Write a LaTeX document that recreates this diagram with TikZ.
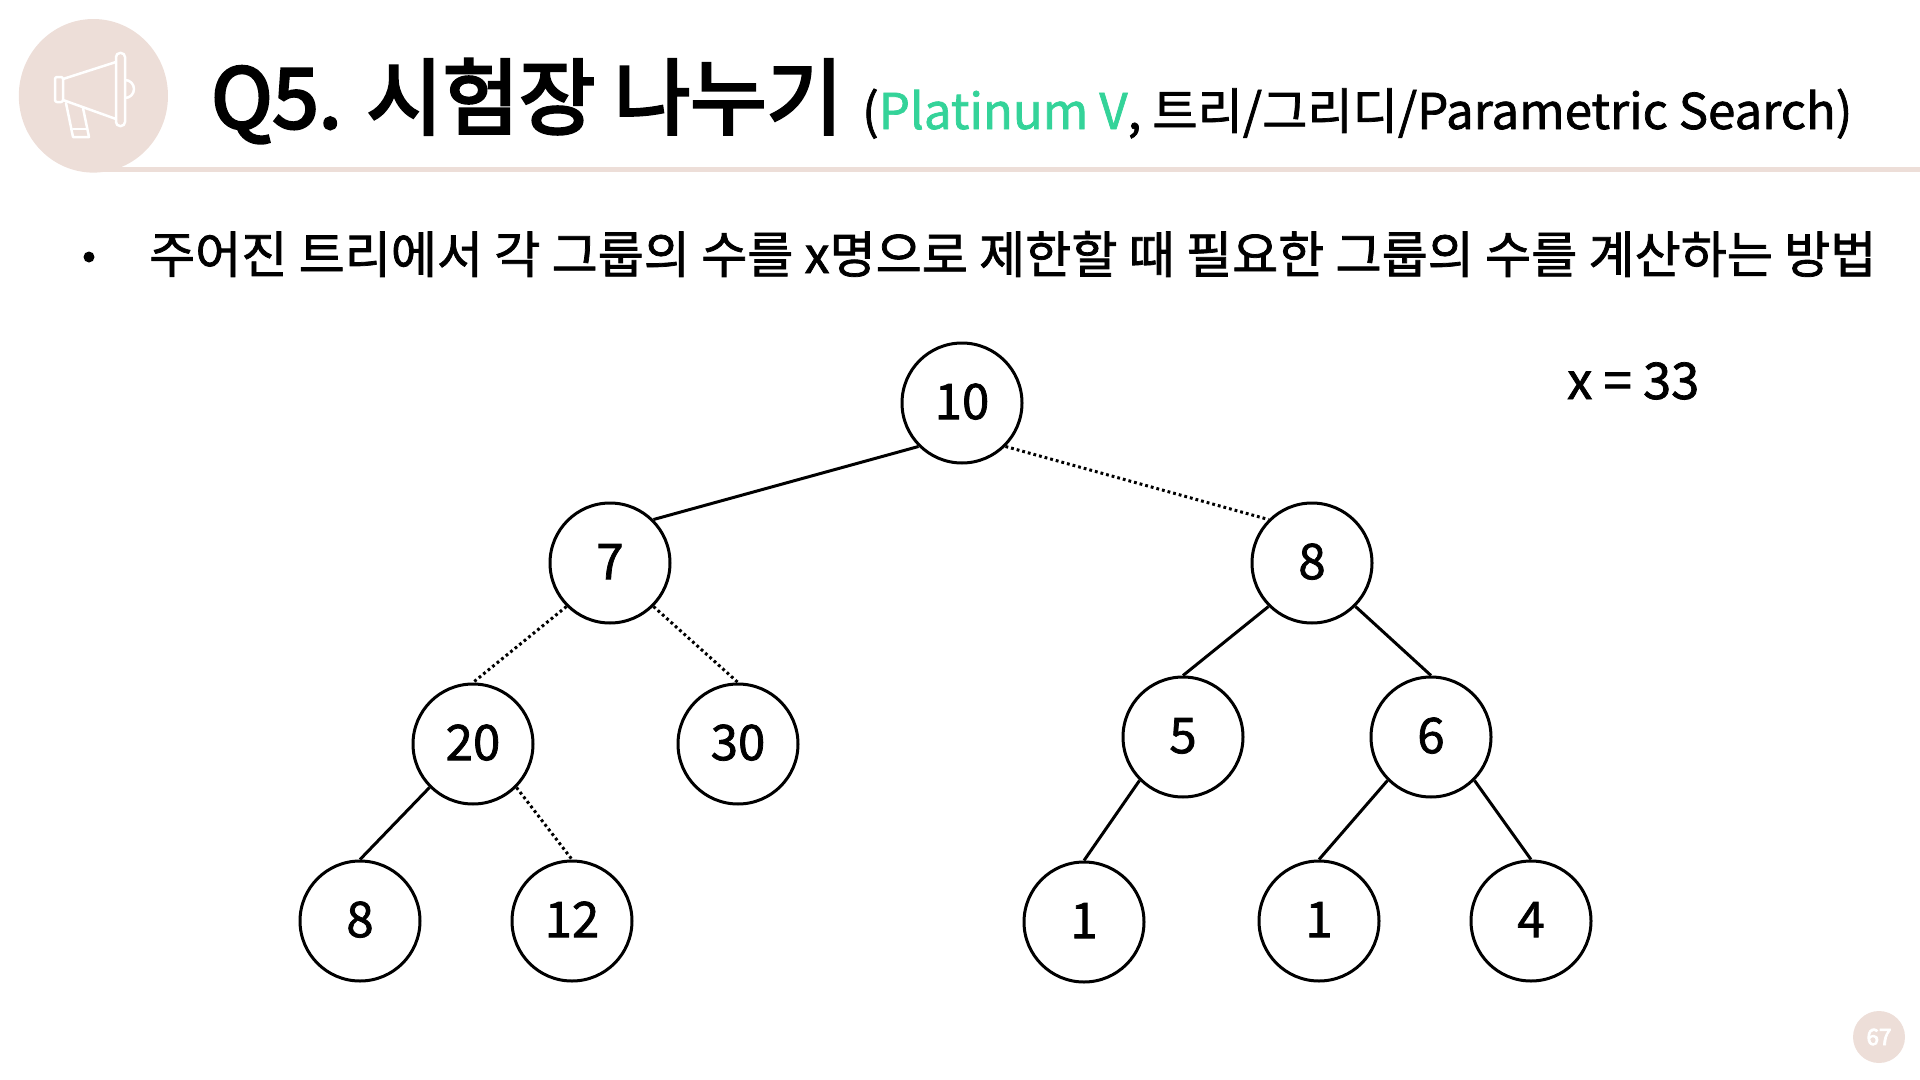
\documentclass[tikz,border=0pt]{standalone}
\usepackage{fontspec}
\setmainfont{Noto Sans CJK KR}[FakeBold=1.5]
\newfontfamily\headfont{Noto Sans CJK KR}[FakeBold=3.5]
\definecolor{beige}{HTML}{EDDED8}
\definecolor{mint}{HTML}{34D399}
\tikzset{
    tree/.style={circle, draw, line width=.15cm, minimum size=6cm, inner sep=0pt, text height=51pt, text depth=5pt, font=\fontsize{70}{80}\selectfont},
    edge/.style={line width=.15cm},
    dots/.style={line width=.15cm, dash pattern=on .14cm off .15cm},
    horn/.style={draw=white, line width=.125cm, line join=round, line cap=round}
}
\begin{document}
\begin{tikzpicture}[x=.05cm, y=-.05cm]
    \useasboundingbox(0, 0)rectangle(1920, 1080);
    \fill[beige](100, 166.5)rectangle(1920, 171.5);
    \fill[beige](93.4, 95.8)ellipse[x radius=3.73cm, y radius=3.84cm];
    % megaphone
    \draw[horn, rounded corners=.1cm](55, 77)rectangle(63, 102);
    \draw[horn, rounded corners=.2cm](116, 53)rectangle(125, 126);
    \draw[horn](63, 79)--(116, 62);
    \draw[horn](63, 100)--(116, 119);
    \draw[horn](125, 80)arc[start angle=90, end angle=-90, radius=.45cm];
    \draw[horn](66, 103)--(73, 137)--(89, 137)--(83, 108);
    \draw[horn](73, 129)--(87, 129);
    % heading
    \node[anchor=base west, inner sep=0pt, font=\fontsize{118}{120}\headfont](title)at(211, 128){Q5. 시험장 나누기};
    \node[anchor=base west, inner sep=0pt, font=\fontsize{70}{80}\selectfont](sub)at(862, 129){(\textcolor{mint}{Platinum V}, 트리/그리디/Parametric Search)};
    \node[circle, fill=black, minimum size=.55cm, inner sep=0pt](bullet)at(89, 257){};
    \node[anchor=base west, inner sep=0pt, font=\fontsize{71.3}{80}\selectfont](line)at(149, 273){주어진 트리에서 각 그룹의 수를 x명으로 제한할 때 필요한 그룹의 수를 계산하는 방법};
    \node[anchor=base west, inner sep=0pt, font=\fontsize{72}{80}\selectfont](limit)at(1567, 399){x = 33};
    % tree
    \node[tree](r)at(962, 403){10};
    \node[tree](a)at(610, 563){7};
    \node[tree](b)at(1312, 563){8};
    \node[tree](aa)at(473, 744){20};
    \node[tree](ab)at(738, 744){30};
    \node[tree](ba)at(1183, 737){5};
    \node[tree](bb)at(1431, 737){6};
    \node[tree](aaa)at(360, 921){8};
    \node[tree](aab)at(572, 921){12};
    \node[tree](baa)at(1084, 922){1};
    \node[tree](bba)at(1319, 921){1};
    \node[tree](bbb)at(1531, 921){4};
    \draw[edge](r.225)--(a.45);
    \draw[dots](r.-45)--(b.135);
    \draw[dots](a.225)--(aa.north);
    \draw[dots](a.-45)--(ab.north);
    \draw[edge](b.225)--(ba.north);
    \draw[edge](b.-45)--(bb.north);
    \draw[edge](aa.225)--(aaa.north);
    \draw[dots](aa.-45)--(aab.north);
    \draw[edge](ba.225)--(baa.north);
    \draw[edge](bb.225)--(bba.north);
    \draw[edge](bb.-45)--(bbb.north);
    % page number
    \node[circle, fill=beige, minimum size=2.6cm, inner sep=0pt, text=white, font=\fontsize{32}{36}\headfont](page)at(1879, 1037){67};
\end{tikzpicture}
\end{document}
